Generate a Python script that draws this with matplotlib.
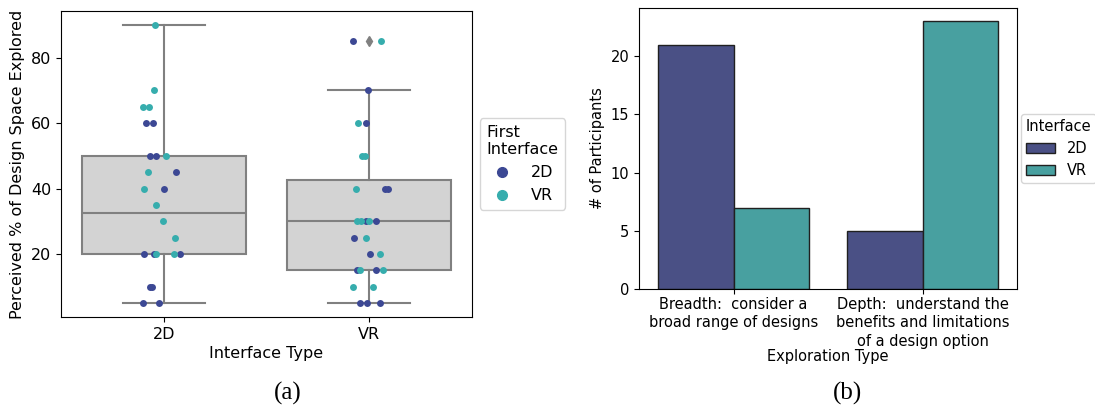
import matplotlib
matplotlib.use("Agg")
import matplotlib.pyplot as plt
import numpy as np
from matplotlib.lines import Line2D

# ---------------- data (a) ----------------
interfaces = ["2D", "VR"]
first_labels = ["2D", "VR"]

# values per interface type, with first-interface group and jitter offsets
vals_2d = [90, 70, 65, 65, 60, 60, 50, 50, 50, 45, 45, 40, 40, 35, 30, 25,
           20, 20, 20, 20, 20, 10, 10, 5, 5]
first_2d = ["VR", "VR", "VR", "VR", "2D", "2D", "2D", "2D", "VR", "VR", "2D", "VR", "2D", "VR", "VR", "VR",
            "2D", "2D", "VR", "VR", "2D", "2D", "2D", "2D", "2D"]
jit_2d = [-0.045, -0.048, -0.099, -0.073, -0.087, -0.051, -0.068, -0.036, 0.01, -0.078, 0.058, -0.096, 0.0,
          -0.04, -0.005, 0.053, -0.097, -0.048, -0.038, 0.051, 0.078, -0.068, -0.056, -0.099, -0.023]

vals_vr = [85, 85, 70, 60, 60, 50, 50, 40, 40, 40, 30, 30, 30, 30, 30, 25, 25, 20, 20,
           15, 15, 15, 15, 10, 10, 5, 5, 5]
first_vr = ["2D", "VR", "2D", "VR", "2D", "VR", "VR", "VR", "2D", "2D", "VR", "VR", "2D", "VR", "2D", "2D", "VR",
            "2D", "VR", "2D", "VR", "2D", "VR", "VR", "VR", "2D", "2D", "2D"]
jit_vr = [-0.079, 0.056, -0.005, -0.054, -0.018, -0.033, -0.023, -0.064, 0.078, 0.092, -0.058, -0.041, -0.018,
          0.0, 0.033, -0.076, -0.015, 0.005, 0.051, -0.058, -0.045, 0.033, 0.068, -0.078, 0.018, -0.043, -0.013, 0.05]

# box statistics
box_stats = [
    dict(med=32.5, q1=20, q3=50, whislo=5, whishi=90, fliers=[]),
    dict(med=30, q1=15, q3=42.5, whislo=5, whishi=70, fliers=[85]),
]

# ---------------- data (b) ----------------
explore_types = ["Breadth:  consider a\nbroad range of designs",
                 "Depth:  understand the\nbenefits and limitations\nof a design option"]
count_2d = [21, 5]
count_vr = [7, 23]

point_colors = {"2D": "#3c4894", "VR": "#36adad"}
bar_colors = ["#4a5085", "#48a0a0"]

FS = 11.5
FS2 = 10.5
plt.rcParams["font.family"] = "DejaVu Sans"
fig = plt.figure(figsize=(10.95, 4.09), dpi=100)

# ---------- panel (a) ----------
ax1 = fig.add_axes([61 / 1095, 1 - 317 / 409, 411 / 1095, 306 / 409])
for s, lab in zip(box_stats, interfaces):
    s["label"] = lab
ax1.bxp(box_stats, positions=[0, 1], widths=0.8, patch_artist=True, showfliers=True,
        boxprops=dict(facecolor="#d3d3d3", edgecolor="#808080", linewidth=1.5),
        medianprops=dict(color="#808080", linewidth=1.5),
        whiskerprops=dict(color="#808080", linewidth=1.5),
        capprops=dict(color="#808080", linewidth=1.5),
        flierprops=dict(marker="d", markerfacecolor="#808080", markeredgecolor="#808080", markersize=5),
        capwidths=0.4, zorder=1)

for i, (vals, grp, jit) in enumerate([(vals_2d, first_2d, jit_2d), (vals_vr, first_vr, jit_vr)]):
    vals = np.array(vals); grp = np.array(grp); jit = np.array(jit)
    for g in first_labels:
        m = grp == g
        ax1.scatter(i + jit[m], vals[m], s=25, color=point_colors[g], zorder=3, linewidths=0)

ax1.set_xlim(-0.5, 1.5)
ax1.set_ylim(0.75, 94.25)
ax1.set_xticks([0, 1])
ax1.set_xticklabels(interfaces)
ax1.set_yticks([20, 40, 60, 80])
ax1.tick_params(labelsize=FS)
ax1.set_xlabel("Interface Type", fontsize=FS, labelpad=3)
ax1.set_ylabel("Perceived % of Design Space Explored", fontsize=FS)
handles = [Line2D([], [], marker="o", linestyle="", color=point_colors[g], markersize=7) for g in first_labels]
ax1.legend(handles, first_labels, title="First\nInterface", loc="center left",
           bbox_to_anchor=(1.0, 0.5), fontsize=FS, title_fontsize=FS, alignment="left")

# ---------- panel (b) ----------
ax2 = fig.add_axes([639 / 1095, 1 - 289 / 409, 378 / 1095, 281 / 409])
x = np.arange(len(explore_types))
ax2.bar(x - 0.2, count_2d, width=0.4, color=bar_colors[0], edgecolor="#202020", linewidth=1.0, label="2D")
ax2.bar(x + 0.2, count_vr, width=0.4, color=bar_colors[1], edgecolor="#202020", linewidth=1.0, label="VR")
ax2.set_xlim(-0.5, 1.5)
ax2.set_ylim(0, 24.15)
ax2.set_xticks(x)
ax2.set_xticklabels(explore_types, fontsize=FS2, va="top")
for t in ax2.get_xticklabels():
    t.set_linespacing(1.3)
ax2.tick_params(axis="x", pad=2)
ax2.set_yticks([0, 5, 10, 15, 20])
ax2.tick_params(labelsize=FS2)
ax2.set_xlabel("Exploration Type", fontsize=FS2, labelpad=0)
ax2.set_ylabel("# of Participants", fontsize=FS2)
ax2.legend(title="Interface", loc="center left", bbox_to_anchor=(1.0, 0.5),
           fontsize=FS2, title_fontsize=FS2, alignment="left", borderpad=0.3, borderaxespad=0.3)

# captions
fig.text(288 / 1095, 1 - 393 / 409, "(a)", family="Liberation Serif", fontsize=18, ha="center", va="center")
fig.text(848 / 1095, 1 - 393 / 409, "(b)", family="Liberation Serif", fontsize=18, ha="center", va="center")

fig.savefig("out.png", dpi=100)
